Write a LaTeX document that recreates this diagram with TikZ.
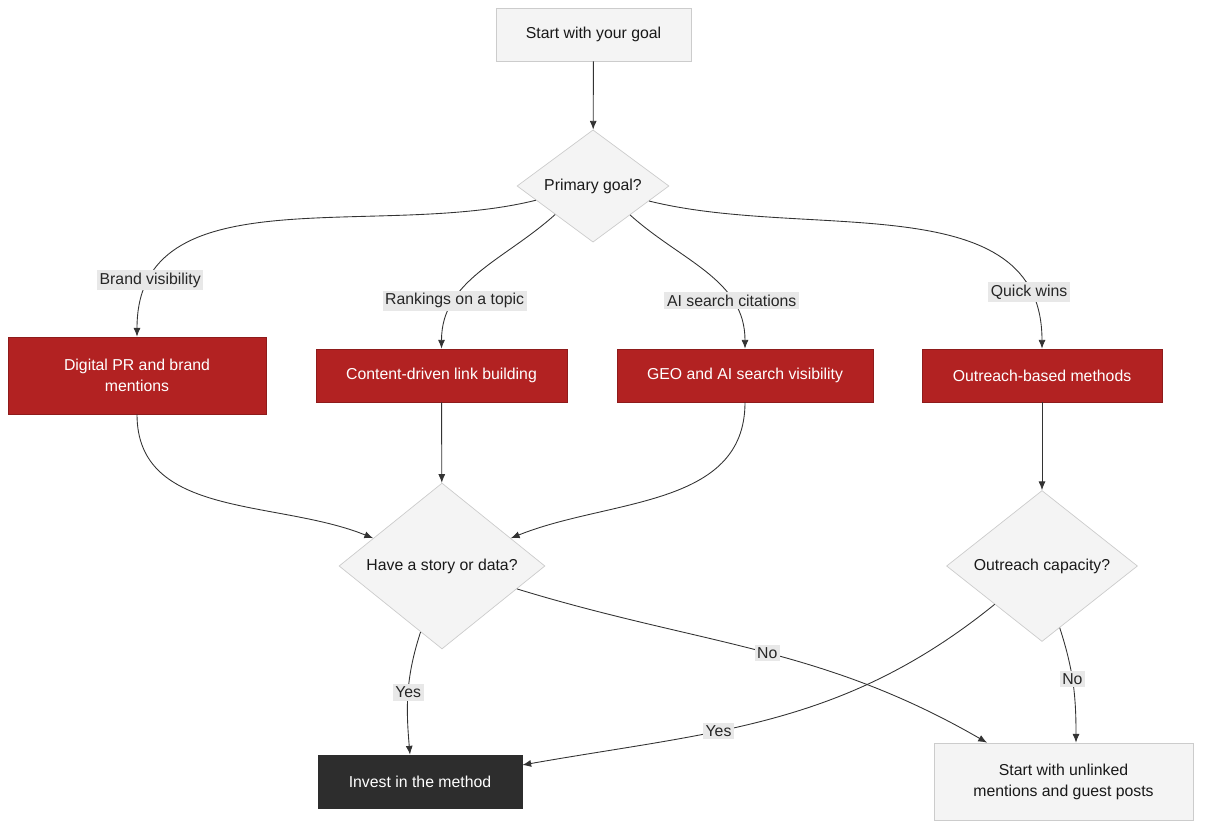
\documentclass[tikz,border=0pt]{standalone}
\usepackage{fontspec}
\setmainfont{Liberation Sans}
\usetikzlibrary{arrows.meta,shapes.geometric,positioning}
\definecolor{boxgray}{HTML}{F4F4F4}
\definecolor{boxline}{HTML}{CCCCCC}
\definecolor{methodred}{HTML}{B22222}
\definecolor{investdark}{HTML}{2D2D2D}
\definecolor{lblgray}{HTML}{E8E8E8}
\definecolor{edgegray}{HTML}{333333}

\begin{document}
\begin{tikzpicture}[x=0.02cm, y=-0.02cm,
  box/.style={draw=boxline, fill=boxgray, font=\fontsize{9}{12}\selectfont,
    text=black!90, align=center, minimum height=1.06cm, inner sep=0pt},
  method/.style={box, fill=methodred, draw=methodred!80!black, text=white},
  choice/.style={diamond, draw=boxline, fill=boxgray, aspect=1, inner sep=0pt,
    font=\fontsize{9}{12}\selectfont, text=black!90},
  lbl/.style={fill=lblgray, inner sep=1.5pt, font=\fontsize{9}{12}\selectfont, text=black!85},
  arr/.style={-{Latex[length=5pt,width=4pt]}, edgegray, line width=0.5pt}
]
  \useasboundingbox (0,0) rectangle (1209,834);

  \node[box, minimum width=3.9cm] (start) at (593.5,34.5) {Start with your goal};
  \node[choice, minimum width=3.04cm] (goal) at (593,186) {Primary goal?};

  \node[method, minimum width=5.16cm, minimum height=1.54cm] (pr) at (137,375.5)
    {Digital PR and brand\\mentions};
  \node[method, minimum width=5.02cm] (content) at (441.5,375.5) {Content-driven link building};
  \node[method, minimum width=5.12cm] (geo) at (745,375.5) {GEO and AI search visibility};
  \node[method, minimum width=4.8cm] (outreach) at (1042,375.5) {Outreach-based methods};

  \node[choice, minimum width=4.12cm] (story) at (442,566) {Have a story or data?};
  \node[choice, minimum width=3.82cm] (capacity) at (1042,566) {Outreach capacity?};

  \node[box, fill=investdark, draw=investdark, text=white, minimum width=4.08cm] (invest)
    at (420,781.5) {Invest in the method};
  \node[box, minimum width=5.18cm, minimum height=1.54cm] (unlinked) at (1063.5,781.5)
    {Start with unlinked\\mentions and guest posts};

  \draw[arr] (start) -- (goal);
  \draw[arr] (goal.194.7) to[out=194,in=90] node[lbl, pos=0.86] {Brand visibility} (pr.north);
  \draw[arr] (goal.217.5) to[out=222,in=90] node[lbl, pos=0.72] {Rankings on a topic} (content.north);
  \draw[arr] (goal.322.5) to[out=318,in=90] node[lbl, pos=0.72] {AI search citations} (geo.north);
  \draw[arr] (goal.345.3) to[out=346,in=90] node[lbl, pos=0.86] {Quick wins} (outreach.north);

  \draw[arr] (pr.south) to[out=270,in=158] (story.158);
  \draw[arr] (content) -- (story);
  \draw[arr] (geo.south) to[out=270,in=22] (story.22);
  \draw[arr] (outreach) -- (capacity);

  \draw[arr] (story.252.4) to[out=252,in=95] node[lbl, pos=0.5] {Yes} (invest.north -| 410,0);
  \draw[arr] (story.343) to[out=-17,in=150] node[lbl, pos=0.52] {No} (unlinked.north -| 987,0);
  \draw[arr] (capacity.219.6) to[out=219,in=10] node[lbl, pos=0.62] {Yes} (invest.east |- 0,765);
  \draw[arr] (capacity.286.6) to[out=-72,in=90] node[lbl, pos=0.45] {No} (unlinked.north -| 1076,0);
\end{tikzpicture}
\end{document}
